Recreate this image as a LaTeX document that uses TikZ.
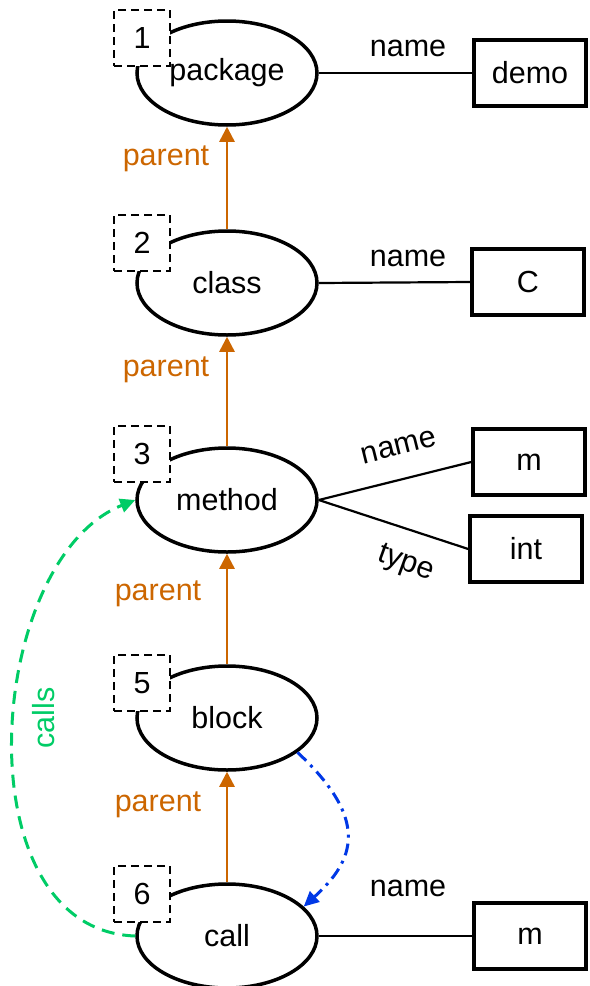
\documentclass[tikz,border=0pt]{standalone}
\usepackage{fontspec}
\setmainfont{Liberation Sans}
\usetikzlibrary{shapes.geometric,arrows.meta}
\definecolor{parentc}{RGB}{204,102,0}
\definecolor{callsc}{RGB}{0,204,102}
\definecolor{flowc}{RGB}{0,56,230}
\tikzset{
  astnode/.style={ellipse,draw,line width=3.5bp,minimum width=180bp,minimum height=104bp,inner sep=0pt,fill=white},
  valbox/.style={rectangle,draw,line width=3.5bp,minimum width=112bp,minimum height=66bp,inner sep=0pt},
  numbox/.style={rectangle,draw,line width=2bp,dash pattern=on 8bp off 5bp,minimum size=56bp,inner sep=0pt,fill=white},
  edgeline/.style={line width=2.2bp},
  parentarrow/.style={draw=parentc,line width=2.5bp,-{Triangle[length=15bp,width=15bp]}},
  parentlabel/.style={text=parentc},
}
\begin{document}
\begin{tikzpicture}[x=1bp,y=-1bp,font=\fontsize{30.5bp}{36bp}\selectfont]
\useasboundingbox (0,0) rectangle (590,986);
% AST nodes
\node[astnode] (pkg) at (227,73) {package};
\node[astnode] (cls) at (227,283) {class};
\node[astnode] (meth) at (227,500) {method};
\node[astnode] (blk) at (227,718) {block};
\node[astnode] (call) at (227,936) {call};
% number boxes
\node[numbox] (n1) at (142,38) {1};
\node[numbox] (n2) at (142,243) {2};
\node[numbox] (n3) at (142,454) {3};
\node[numbox] (n5) at (142,683) {5};
\node[numbox] (n6) at (142,894) {6};
% value boxes
\node[valbox] (vdemo) at (530,73) {demo};
\node[valbox] (vc) at (528,282) {C};
\node[valbox] (vm) at (529,462) {m};
\node[valbox] (vint) at (526,549) {int};
\node[valbox] (vcm) at (530,936) {m};
% attribute edges
\draw[edgeline] (pkg.east) -- (vdemo.west);
\node (lpkg) at (408,48) {name};
\draw[edgeline] (cls.east) -- (vc.west);
\node (lcls) at (408,258) {name};
\draw[edgeline] (meth.east) -- (vm.west);
\node[rotate=14] (lmn) at (399,447) {name};
\draw[edgeline] (meth.east) -- (vint.west);
\node[rotate=-20] (lmt) at (406,564) {type};
\draw[edgeline] (call.east) -- (vcm.west);
\node (lcall) at (408,888) {name};
% parent edges
\draw[parentarrow] (cls.north) -- (pkg.south);
\node[parentlabel] (p1) at (166,159) {parent};
\draw[parentarrow] (meth.north) -- (cls.south);
\node[parentlabel] (p2) at (166,370) {parent};
\draw[parentarrow] (blk.north) -- (meth.south);
\node[parentlabel] (p3) at (158,594) {parent};
\draw[parentarrow] (call.north) -- (blk.south);
\node[parentlabel] (p4) at (158,805) {parent};
% calls edge
\draw[draw=callsc,line width=3bp,dash pattern=on 13bp off 8bp,-{Triangle[length=15bp,width=14bp]}]
  (call.west) .. controls (-40,930) and (-15,560) .. (meth.west);
\node[text=callsc,rotate=90] (lcalls) at (44,718) {calls};
% flow edge
\draw[draw=flowc,line width=3bp,dash pattern=on 12bp off 6bp on 3bp off 6bp,-{Triangle[length=15bp,width=14bp]}]
  (blk.-26.6) .. controls (370,820) and (355,860) .. (call.21);
\end{tikzpicture}
\end{document}
